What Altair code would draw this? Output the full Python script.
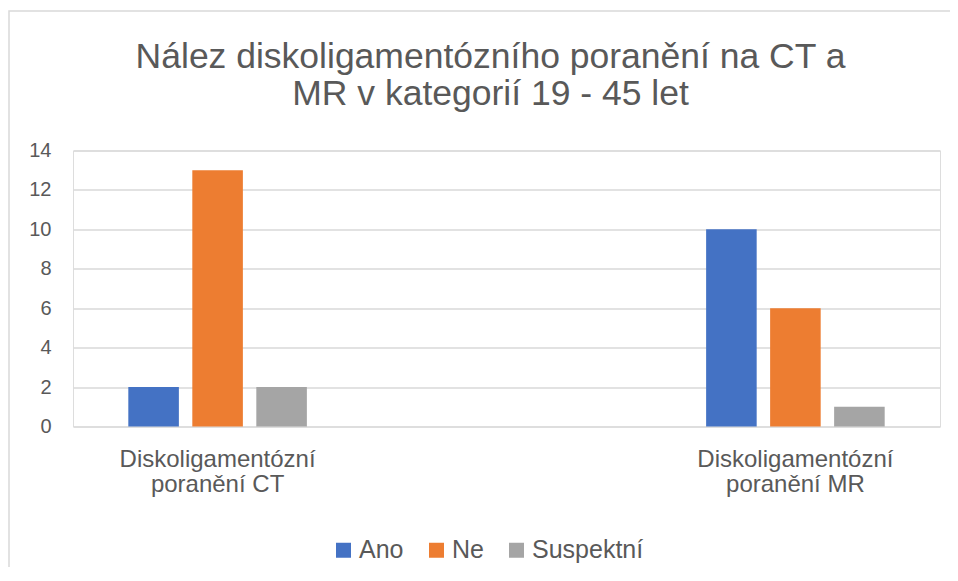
import altair as alt
import pandas as pd

categories = ["Diskoligamentózní poranění CT", "Diskoligamentózní poranění MR"]
series = ["Ano", "Ne", "Suspektní"]
values_ct = [2, 13, 2]
values_mr = [10, 6, 1]
colors = ["#4472C4", "#ED7D31", "#A5A5A5"]
y_ticks = [0, 2, 4, 6, 8, 10, 12, 14]
title_lines = ["Nález diskoligamentózního poranění na CT a", "MR v kategorií 19 - 45 let"]

rows = []
for cat, vals in zip(categories, [values_ct, values_mr]):
    for s, v in zip(series, vals):
        rows.append({"kategorie": cat, "serie": s, "hodnota": v})
df = pd.DataFrame(rows)

FONT = "Liberation Sans"
TXT = "#595959"
GRID = "#D9D9D9"
W, H = 867, 276

bars = alt.Chart(df).mark_bar().encode(
    x=alt.X("kategorie:N", sort=categories, title=None,
            scale=alt.Scale(paddingInner=0.6677, paddingOuter=0.0841),
            axis=alt.Axis(labelAngle=0, domain=False, ticks=False, labelPadding=21,
                          labelFontSize=24, labelLineHeight=25, labelColor=TXT, labelFont=FONT,
                          labelLimit=0,
                          labelExpr="[slice(datum.label, 0, indexof(datum.label, ' ')), slice(datum.label, indexof(datum.label, ' ') + 1)]")),
    xOffset=alt.XOffset("serie:N", sort=series,
                        scale=alt.Scale(paddingInner=0.21, paddingOuter=0.105)),
    y=alt.Y("hodnota:Q", title=None,
            scale=alt.Scale(domain=[0, 14], nice=False),
            axis=alt.Axis(values=y_ticks, domain=False, ticks=False, labelPadding=22,
                          labelFontSize=20, labelColor=TXT, labelFont=FONT,
                          grid=True, gridColor=GRID, gridWidth=1.3)),
    color=alt.Color("serie:N", sort=series,
                    scale=alt.Scale(domain=series, range=colors),
                    legend=alt.Legend(title=None, orient="none", direction="horizontal",
                                      legendX=258, legendY=387, symbolType="square",
                                      symbolSize=225, symbolStrokeWidth=0, labelFontSize=25,
                                      labelColor=TXT, labelFont=FONT, labelOffset=3,
                                      columnPadding=20, padding=0)),
)

border = alt.Chart(pd.DataFrame({"b": [0]})).mark_rect(
    fill=None, stroke="#D9D9D9", strokeWidth=1.5
).encode(
    x=alt.value(-64), x2=alt.value(W + 30), y=alt.value(-139.5), y2=alt.value(H + 170)
)

chart = alt.layer(border, bars).properties(
    width=W, height=H,
    title=alt.Title(title_lines, fontSize=35.5, font=FONT, color=TXT, fontWeight="normal",
                    anchor="middle", frame="group", dx=-16, offset=-102, lineHeight=37),
    autosize=alt.AutoSizeParams(type="none"),
    padding={"left": 65, "top": 142.5, "right": 10, "bottom": 140},
).configure_view(stroke=None).configure(background="white")

chart.save("out.html", embed_options={"renderer": "svg", "actions": False})
